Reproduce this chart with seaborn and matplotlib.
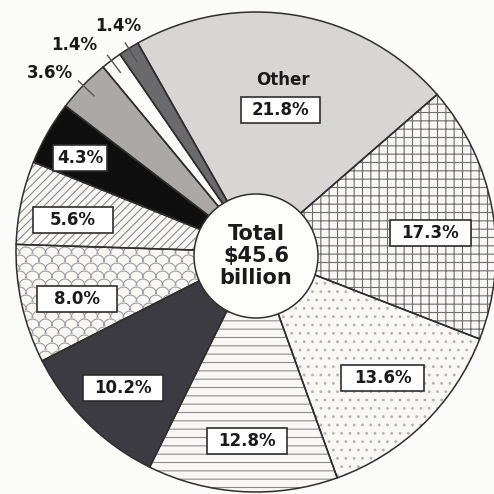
import numpy as np
import matplotlib
matplotlib.use("Agg")
import matplotlib.pyplot as plt
from matplotlib.patches import Circle, Rectangle
from matplotlib.collections import LineCollection
import seaborn as sns

# ---- data -------------------------------------------------------------
segments = ["Other", "Seg 2", "Seg 3", "Seg 4", "Seg 5", "Seg 6",
            "Seg 7", "Seg 8", "Seg 9", "Seg 10", "Seg 11"]
shares = [21.8, 17.3, 13.6, 12.8, 10.2, 8.0, 5.6, 4.3, 3.6, 1.4, 1.4]
named_label = "Other"
center_label = "Total\n$45.6\nbillion"

# ---- style ------------------------------------------------------------
sns.set_theme(style="white")
plt.rcParams["font.family"] = ["DejaVu Sans"]
plt.rcParams["hatch.linewidth"] = 0.8

paper = "#fbfbf9"
ink = "#2e2e2e"
faces = ["#d8d6d4", "#f8f7f4", "#f8f7f4", "#f8f7f4", "#3c3b41", "#f8f7f4",
         "#f8f7f4", "#0f0f0f", "#aaa9a8", "#fcfcfb", "#6a6a6c"]
hatches = [None, "++", "..", "--", None, None, "////", None, None, None, None]
hatch_colors = [faces[0], "#6e6e6e", "#b5b2ad", "#8c8c8c", faces[4], faces[5],
                "#8c8c8c", faces[7], faces[8], faces[9], faces[10]]
scale_slice = 5          # wedge drawn with a fish-scale texture
scale_color = "#9c9c9c"

# boxed labels: radial position (fraction of radius), angular nudge (deg), box width (px)
box_r = [0.60, 0.73, 0.745, 0.79, 0.79, 0.77, 0.775, 0.83]
box_nudge = [0.0, 3.7, -0.9, -0.6, -0.3, -2.2, -2.0, -1.6]
box_w = [79, 81, 83, 80, 80, 80, 80, 54]
box_h = 26
# outside labels for thin slices: text offset from leader end (px, y up)
out_offsets = {8: (-28.5, 7.5), 9: (-32.5, 10.0), 10: (-6.5, 16.5)}

W = 494
cx, cy = 256, W - 252
R = 240
start = -29.5  # degrees clockwise from 12 o'clock

fig = plt.figure(figsize=(W / 100, W / 100), dpi=100, facecolor=paper)
ax = fig.add_axes([0, 0, 1, 1])
ax.set_facecolor(paper)

# filled / hatched wedges
wedges, _ = ax.pie(shares, radius=R, center=(cx, cy), startangle=90 - start,
                   counterclock=False, colors=faces,
                   wedgeprops=dict(linewidth=0))
for w, h, hc in zip(wedges, hatches, hatch_colors):
    w.set_edgecolor(hc)
    w.set_linewidth(0)
    if h:
        w.set_hatch(h)

# fish-scale texture: rows of overlapping arcs clipped to the wedge
t = np.linspace(0, np.pi, 14)
arc_r, step_x, step_y = 7.0, 13.0, 8.0
arcs = []
for j, y in enumerate(np.arange(0, W + step_y, step_y)):
    off = (j % 2) * step_x / 2
    for x in np.arange(-step_x + off, W / 2 + step_x, step_x):
        arcs.append(np.column_stack([x + arc_r * np.cos(t), y + arc_r * np.sin(t)]))
scales = LineCollection(arcs, colors=scale_color, linewidths=0.8, zorder=2)
ax.add_collection(scales)
scales.set_clip_path(wedges[scale_slice])

# outlines on top
ax.pie(shares, radius=R, center=(cx, cy), startangle=90 - start,
       counterclock=False, colors=["none"] * len(shares),
       wedgeprops=dict(linewidth=1.1, edgecolor=ink, fill=False, zorder=3))


def polar(theta_deg, r):
    a = np.deg2rad(theta_deg)
    return cx + r * np.sin(a), cy + r * np.cos(a)


cum = np.concatenate([[0], np.cumsum(shares)[:-1]])
mids = [start + 3.6 * (c + s / 2) for c, s in zip(cum, shares)]
pct = [f"{s:.1f}%" for s in shares]

txt = dict(fontsize=12, fontweight="bold", color="#1a1a1a")

for i in range(len(box_r)):
    x, y = polar(mids[i] + box_nudge[i], box_r[i] * R)
    ax.add_patch(Rectangle((x - box_w[i] / 2, y - box_h / 2), box_w[i], box_h,
                           facecolor="white", edgecolor=ink, linewidth=1.2,
                           zorder=6))
    ax.text(x, y, pct[i], ha="center", va="center", zorder=7, **txt)

# category name above its value
nx, ny = polar(mids[0] - 1.0, 0.725 * R)
ax.text(nx, ny, named_label, ha="center", va="center", zorder=7, **txt)

# leader lines for the thin slices
for i, (dx, dy) in out_offsets.items():
    x0, y0 = polar(mids[i], 0.935 * R)
    x1, y1 = polar(mids[i], 1.03 * R)
    ax.plot([x0, x1], [y0, y1], color="#555555", linewidth=1.0, zorder=6,
            solid_capstyle="butt")
    ax.text(x1 + dx, y1 + dy, pct[i], ha="center", va="center", zorder=7, **txt)

# hub
hub_y = W - 256
ax.add_patch(Circle((cx, hub_y), 62, facecolor="#fdfdfb", edgecolor=ink,
                    linewidth=1.1, zorder=8))
ax.text(cx, hub_y, center_label, ha="center", va="center", fontsize=15,
        fontweight="bold", linespacing=1.15, color="#1a1a1a", zorder=9)

ax.set_xlim(0, W)
ax.set_ylim(0, W)
ax.set_aspect("equal")
ax.axis("off")

fig.savefig("out.png", dpi=100, facecolor=paper)
